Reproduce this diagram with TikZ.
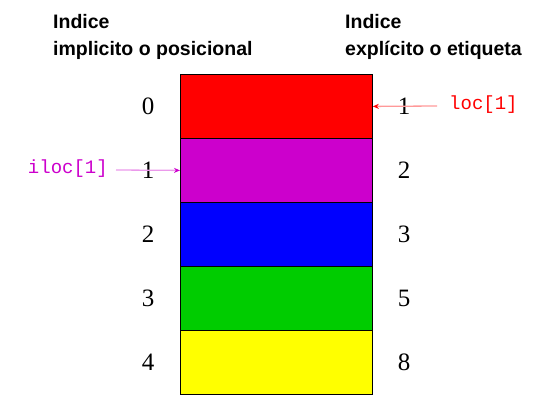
\documentclass[tikz,border=0pt]{standalone}
\usepackage{fontspec}
\setmainfont{Liberation Serif}
\setsansfont{Liberation Sans}
\setmonofont{Liberation Mono}
\usetikzlibrary{arrows.meta}
\definecolor{cred}{HTML}{FF0000}
\definecolor{cmag}{HTML}{CC00CC}
\definecolor{cblue}{HTML}{0000FF}
\definecolor{cgreen}{HTML}{00CC00}
\definecolor{cyellow}{HTML}{FFFF00}
\begin{document}
\begin{tikzpicture}[x=1pt,y=-1pt,
  cell/.style={draw=black,line width=0.8pt,minimum width=192pt,minimum height=64pt,inner sep=0pt,anchor=north west},
  num/.style={font=\fontsize{25}{25}\selectfont,inner sep=0pt},
  head/.style={font=\sffamily\bfseries\fontsize{19.5}{26.5}\selectfont,align=left,anchor=north west,inner sep=0pt},
  code/.style={font=\ttfamily\fontsize{19}{19}\selectfont,inner sep=0pt},
  link/.style={line width=1.3pt}]
\useasboundingbox (0,0) rectangle (553,415);
\node[head] (hl) at (53,14.5) {Indice\\implicito o posicional};
\node[head] (hr) at (345,14.5) {Indice\\explícito o etiqueta};
\node[cell,fill=cred] (c0) at (180,74) {};
\node[cell,fill=cmag] (c1) at (180,138) {};
\node[cell,fill=cblue] (c2) at (180,202) {};
\node[cell,fill=cgreen] (c3) at (180,266) {};
\node[cell,fill=cyellow] (c4) at (180,330) {};
\node[num] (l0) at (148,106) {0};
\node[num] (l1) at (148,170) {1};
\node[num] (l2) at (148,234) {2};
\node[num] (l3) at (148,298) {3};
\node[num] (l4) at (148,362) {4};
\node[num] (r0) at (404,106) {1};
\node[num] (r1) at (404,170) {2};
\node[num] (r2) at (404,234) {3};
\node[num] (r3) at (404,298) {5};
\node[num] (r4) at (404,362) {8};
\node[code,text=cmag,anchor=east] (il) at (108,169) {iloc[1]};
\node[code,text=cred,anchor=west] (lo) at (449,105) {loc[1]};
\coordinate (ia) at (116,170);
\coordinate (la) at (437,106);
\draw[link,cmag!40,-{Stealth[color=cmag,length=6pt,width=5pt]}] (ia) -- (c1.west);
\draw[link,cred!40,-{Stealth[color=cred,length=6pt,width=5pt]}] (la) -- (c0.east);
\end{tikzpicture}
\end{document}
